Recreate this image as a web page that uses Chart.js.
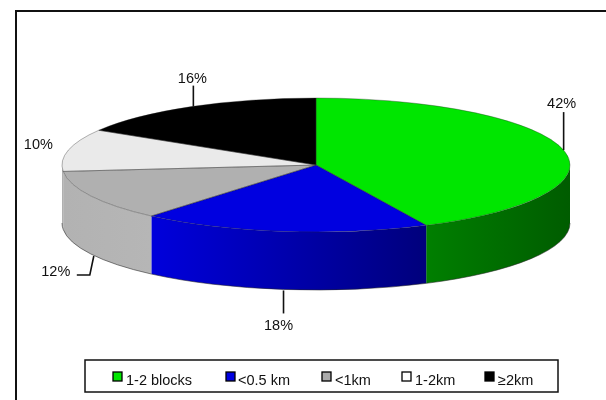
<!DOCTYPE html>
<html>
<head>
<meta charset="utf-8">
<script src="https://cdn.jsdelivr.net/npm/chart.js@4"></script>
<style>
  html, body { margin: 0; padding: 0; background: #fff; }
  canvas { display: block; }
</style>
</head>
<body>
<canvas id="myChart" width="606" height="400"></canvas>
<script>
const categories = ['1-2 blocks', '<0.5 km', '<1km', '1-2km', '\u22652km'];
const shares = [42, 18, 12, 10, 16];

const topColors = ['#00e600', '#0000e0', '#b0b0b0', '#eaeaea', '#000000'];
const sideLight = ['#007f00', '#0000dc', '#b2b2b2', '#b0b0b0', '#000000'];
const sideDark = ['#005c00', '#00007c', '#b6b6b6', '#b0b0b0', '#000000'];
const legendColors = ['#00e600', '#0000e0', '#aaaaaa', '#ffffff', '#000000'];

// layout of the squashed pie and the things round it
const pie = { x: 316, y: 165, rx: 254, ry: 67, depth: 58 };
const labelOffsets = [[-2, -46], [-5, 37], [-35, 18], [-30, -5], [1, -28]];
const leaderPaths = [
  [[0, 0], [0, -38]],
  [[0, 1], [0, 24]],
  [[3, 2], [-1, 21], [-14, 21]],
  [],
  [[2, 0], [2, -21]]
];
const legendBox = { x: 85, y: 360, w: 473, h: 32 };
const legendMarkerX = [113, 226, 322, 402, 485];
const legendTextX = [126, 238, 335, 415, 498];

const textFont = '14.5px "Liberation Sans", Arial, sans-serif';

function pieTransform(ctx, arc) {
  ctx.translate(pie.x, pie.y);
  ctx.scale(pie.rx / arc.outerRadius, pie.ry / arc.outerRadius);
  ctx.translate(-arc.x, -arc.y);
}

// front wall of a slice, only the part facing the viewer
function drawSide(ctx, arc, i) {
  const turn = Math.PI * 2;
  [0, turn].forEach(function (shift) {
    const a0 = Math.max(arc.startAngle + shift, 0);
    const a1 = Math.min(arc.endAngle + shift, Math.PI);
    if (a1 <= a0) return;
    const xRight = pie.x + pie.rx * Math.cos(a0);
    const xLeft = pie.x + pie.rx * Math.cos(a1);
    const grad = ctx.createLinearGradient(xLeft, 0, xRight, 0);
    grad.addColorStop(0, sideLight[i]);
    grad.addColorStop(1, sideDark[i]);
    ctx.beginPath();
    ctx.ellipse(pie.x, pie.y, pie.rx, pie.ry, 0, a0, a1);
    ctx.ellipse(pie.x, pie.y + pie.depth, pie.rx, pie.ry, 0, a1, a0, true);
    ctx.closePath();
    ctx.fillStyle = grad;
    ctx.fill();
    ctx.beginPath();
    ctx.ellipse(pie.x, pie.y + pie.depth, pie.rx, pie.ry, 0, a1, a0, true);
    ctx.strokeStyle = 'rgba(40,40,40,0.7)';
    ctx.lineWidth = 0.8;
    ctx.stroke();
  });
}

const pie3d = {
  id: 'pie3d',
  beforeDraw(chart) {
    const ctx = chart.ctx;
    ctx.save();
    ctx.fillStyle = '#fff';
    ctx.fillRect(0, 0, chart.width, chart.height);
    ctx.strokeStyle = '#111';
    ctx.lineWidth = 2;
    ctx.strokeRect(16, 11, chart.width + 20, chart.height + 20);
    ctx.restore();
  },
  beforeDatasetsDraw(chart) {
    const ctx = chart.ctx;
    const arcs = chart.getDatasetMeta(0).data;
    ctx.save();
    arcs.forEach(function (arc, i) { drawSide(ctx, arc, i); });
    ctx.restore();
    ctx.save();
    pieTransform(ctx, arcs[0]);
  },
  afterDatasetsDraw(chart) {
    const ctx = chart.ctx;
    const arcs = chart.getDatasetMeta(0).data;
    ctx.restore();
    // slice outlines, stroked after the transform so the line stays even
    arcs.forEach(function (arc) {
      ctx.save();
      pieTransform(ctx, arc);
      ctx.beginPath();
      ctx.moveTo(arc.x, arc.y);
      ctx.arc(arc.x, arc.y, arc.outerRadius, arc.startAngle, arc.endAngle);
      ctx.closePath();
      ctx.restore();
      ctx.save();
      ctx.strokeStyle = 'rgba(40,40,40,0.5)';
      ctx.lineWidth = 0.7;
      ctx.stroke();
      ctx.restore();
    });
    drawLabels(chart, arcs);
    drawLegend(chart);
  }
};

function drawLabels(chart, arcs) {
  const ctx = chart.ctx;
  ctx.save();
  ctx.font = textFont;
  ctx.fillStyle = '#111';
  ctx.textAlign = 'center';
  ctx.textBaseline = 'middle';
  arcs.forEach(function (arc, i) {
    const mid = (arc.startAngle + arc.endAngle) / 2;
    const ax = pie.x + pie.rx * Math.cos(mid);
    const ay = pie.y + pie.ry * Math.sin(mid) + (Math.sin(mid) > 0 ? pie.depth : 0);
    if (leaderPaths[i].length) {
      ctx.beginPath();
      leaderPaths[i].forEach(function (p, j) {
        if (j === 0) ctx.moveTo(ax + p[0], ay + p[1]);
        else ctx.lineTo(ax + p[0], ay + p[1]);
      });
      ctx.strokeStyle = '#111';
      ctx.lineWidth = 1.6;
      ctx.stroke();
    }
    ctx.fillText(shares[i] + '%', ax + labelOffsets[i][0], ay + labelOffsets[i][1]);
  });
  ctx.restore();
}

function drawLegend(chart) {
  const ctx = chart.ctx;
  ctx.save();
  ctx.strokeStyle = '#111';
  ctx.lineWidth = 1.5;
  ctx.strokeRect(legendBox.x, legendBox.y, legendBox.w, legendBox.h);
  ctx.font = textFont;
  ctx.textBaseline = 'middle';
  categories.forEach(function (name, i) {
    ctx.fillStyle = legendColors[i];
    ctx.fillRect(legendMarkerX[i], 372, 9, 9);
    ctx.strokeStyle = '#000';
    ctx.lineWidth = 1.3;
    ctx.strokeRect(legendMarkerX[i], 372, 9, 9);
    ctx.fillStyle = '#111';
    ctx.fillText(name, legendTextX[i], 381);
  });
  ctx.restore();
}

const data = {
  labels: categories,
  datasets: [{
    data: shares,
    backgroundColor: topColors,
    borderWidth: 0
  }]
};

const config = {
  type: 'pie',
  data: data,
  options: {
    responsive: false,
    animation: false,
    layout: { padding: 20 },
    plugins: {
      legend: { display: false },
      tooltip: { enabled: false }
    }
  },
  plugins: [pie3d]
};

let ctx = document.getElementById('myChart').getContext('2d');
let chart = new Chart(ctx, config);
</script>
</body>
</html>
